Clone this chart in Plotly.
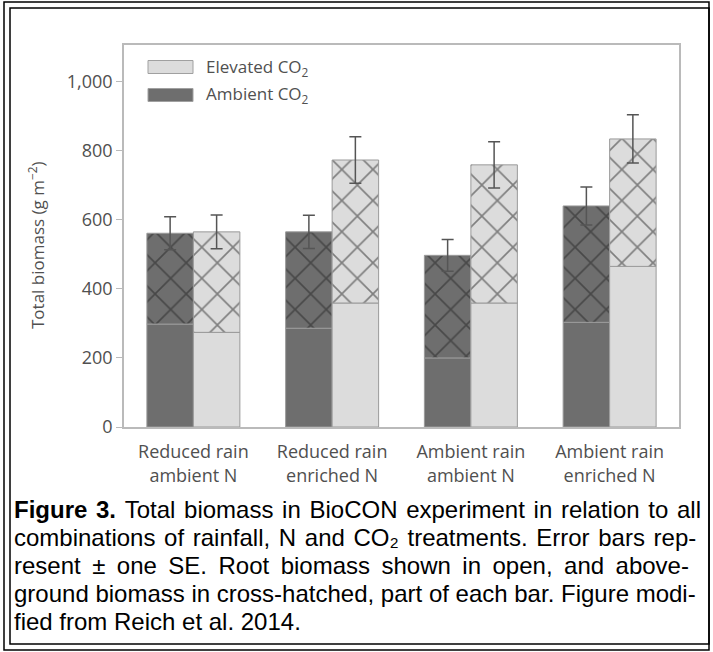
import plotly.graph_objects as go

# treatments on the x axis
categories = ["Reduced rain<br>ambient N", "Reduced rain<br>enriched N",
              "Ambient rain<br>ambient N", "Ambient rain<br>enriched N"]

# total biomass (g m-2) and root part
ambient_total = [561, 565, 497, 640]
ambient_root = [298, 286, 200, 303]
ambient_se = [48, 48, 46, 55]

elevated_total = [565, 773, 759, 834]
elevated_root = [274, 359, 359, 465]
elevated_se = [49, 67, 67, 70]

y_ticks = [0, 200, 400, 600, 800, 1000]

caption_lines = [
    "<b>Figure 3.</b> Total biomass in BioCON experiment in relation to all",
    "combinations of rainfall, N and CO₂ treatments. Error bars rep-",
    "resent ± one SE. Root biomass shown in open, and above-",
    "ground biomass in cross-hatched, part of each bar. Figure modi-",
    "fied from Reich et al. 2014.",
]
# extra space put after each word gap, to imitate the justified caption
HAIR, THIN = '\u200a', '\u2009'
caption_pad = [HAIR, HAIR, THIN, '', '']

DARK = '#6e6e6e'
LIGHT = '#dcdcdc'
HATCH = '#222222'
GREY_TXT = '#505050'
FONT = 'Open Sans'

# plot area in pixels (used for the paper-positioned decorations)
W, H = 713, 652
L, R, T, B = 124, 679, 45, 427


def px(x):
    return (x - L) / (R - L)


def py(y):
    return (B - y) / (B - T)


def add_group(fig, total, root, se, color, group):
    above = [t - r for t, r in zip(total, root)]
    fig.add_trace(go.Bar(
        x=categories, y=root, offsetgroup=group,
        marker=dict(color=color, line=dict(color='#9a9a9a', width=1)),
        showlegend=False, hoverinfo='y'
    ))
    fig.add_trace(go.Bar(
        x=categories, y=above, base=root, offsetgroup=group,
        marker=dict(
            color=color,
            line=dict(color='#9a9a9a', width=1),
            pattern=dict(shape='x', fillmode='overlay', fgcolor=HATCH,
                         size=22, solidity=0.15)
        ),
        error_y=dict(type='data', array=se, color='#555555',
                     thickness=1.5, width=6),
        showlegend=False, hoverinfo='y'
    ))


fig = go.Figure()
add_group(fig, ambient_total, ambient_root, ambient_se, DARK, 'amb')
add_group(fig, elevated_total, elevated_root, elevated_se, LIGHT, 'elev')

fig.update_layout(
    width=W, height=H,
    margin=dict(l=L, r=W - R, t=T, b=H - B),
    barmode='group', bargap=0.33, bargroupgap=0,
    plot_bgcolor='white', paper_bgcolor='white',
    font=dict(family=FONT, size=18, color=GREY_TXT),
    showlegend=False,
)
fig.update_xaxes(
    range=[-0.5, 3.5], showline=True, mirror=True, linecolor='#bababa',
    linewidth=1.5, ticks='', showgrid=False, ticklabelstandoff=8,
    tickfont=dict(size=18, color=GREY_TXT)
)
fig.update_yaxes(
    range=[0, 1106], tickvals=y_ticks, tickformat=',', showline=True,
    mirror=True, linecolor='#bababa', linewidth=1.5, ticks='outside',
    ticklen=6, tickcolor='#bababa', showgrid=False, zeroline=False,
    tickfont=dict(size=18, color=GREY_TXT)
)

# axis title placed by hand
fig.add_annotation(xref='paper', yref='paper', x=px(36), y=py(245),
                   text='Total biomass (g m<sup>−2</sup>)', textangle=-90,
                   showarrow=False, xanchor='center', yanchor='middle',
                   font=dict(size=17, color=GREY_TXT))

# legend drawn by hand so the boxes keep their wide shape
legend_items = [("Elevated CO<sub>2</sub>", LIGHT, 67),
                ("Ambient CO<sub>2</sub>", DARK, 95)]
for label, col, yc in legend_items:
    fig.add_shape(type='rect', xref='paper', yref='paper',
                  x0=px(148), x1=px(193), y0=py(yc - 6.5), y1=py(yc + 6.5),
                  fillcolor=col, line=dict(color='#a0a0a0', width=1))
    fig.add_annotation(xref='paper', yref='paper', x=px(204), y=py(yc),
                       text=label, showarrow=False, xanchor='left',
                       yanchor='middle', font=dict(size=17, color=GREY_TXT))

# caption text under the chart
for i, line in enumerate(caption_lines):
    txt = line.replace(' ', ' ' + caption_pad[i]) if caption_pad[i] else line
    fig.add_annotation(xref='paper', yref='paper', x=px(12), y=py(509 + 28 * i),
                       text=txt, showarrow=False, xanchor='left',
                       yanchor='middle',
                       font=dict(family='Liberation Sans', size=24, color='black'))

# double border around the whole panel
for inset in (3, 9):
    fig.add_shape(type='rect', xref='paper', yref='paper',
                  x0=px(inset + 1), x1=px(709), y0=py(inset - 1), y1=py(H - inset + 1),
                  line=dict(color='black', width=1.5), layer='above')

fig.write_html("out.html", config={'displayModeBar': False},
               post_script="document.body.style.margin='0';")
